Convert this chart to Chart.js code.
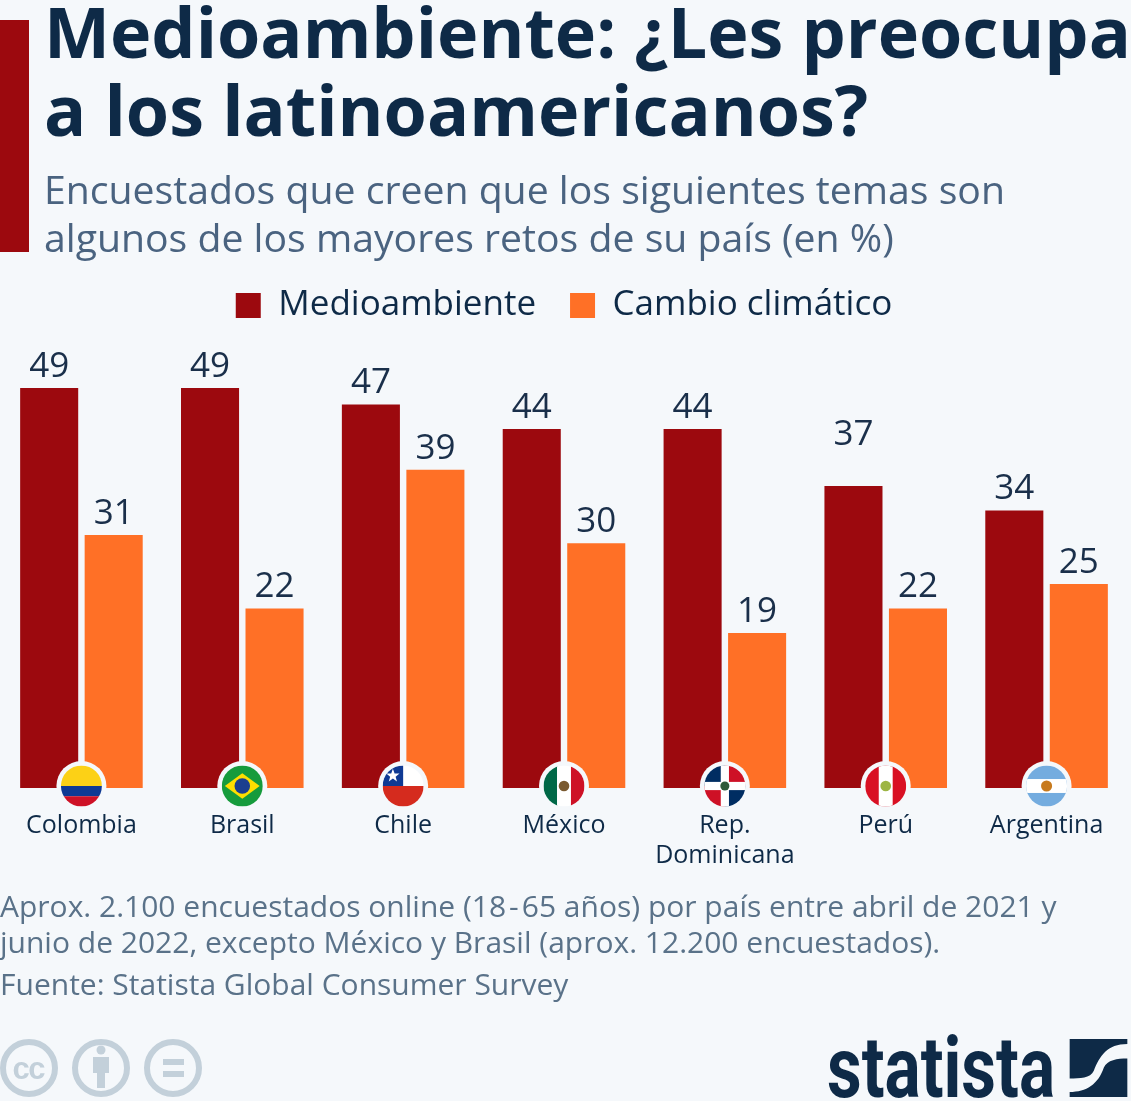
<!DOCTYPE html>
<html lang="es">
<head>
<meta charset="utf-8">
<script src="https://cdn.jsdelivr.net/npm/chart.js@4"></script>
<style>
html,body{margin:0;padding:0;background:#f5f8fb;}
body{position:relative;width:1131px;height:1101px;overflow:hidden;font-family:"Open Sans",sans-serif;}
canvas{position:absolute;left:0;top:0;}
.t{position:absolute;white-space:nowrap;}
.title{left:44px;font-weight:700;font-size:70px;line-height:80px;color:#0e2a47;}
.sub{left:44px;font-size:39.2px;line-height:48px;color:#4a6380;}
.foot{left:0;font-size:30px;line-height:38px;color:#5a7289;}
#bar{position:absolute;left:0;top:20px;width:29px;height:232px;background:#9c090e;}
#logo{left:827px;top:1018px;font-family:"Roboto",sans-serif;font-weight:700;font-size:86px;line-height:100px;color:#0e2a47;transform-origin:left top;transform:scaleX(.785);}
svg{position:absolute;}
</style>
</head>
<body>
<canvas id="c" width="1131" height="1101"></canvas>
<div id="bar"></div>
<div class="t title" style="top:-9px">Medioambiente: ¿Les preocupa</div>
<div class="t title" style="top:69px">a los latinoamericanos?</div>
<div class="t sub" style="top:165px">Encuestados que creen que los siguientes temas son</div>
<div class="t sub" style="top:213px">algunos de los mayores retos de su país (en %)</div>
<div class="t foot" style="top:887px">Aprox. 2.100 encuestados online (18<span style="margin:0 3px">-</span>65 años) por país entre abril de 2021 y</div>
<div class="t foot" style="top:923px">junio de 2022, excepto México y Brasil (aprox. 12.200 encuestados).</div>
<div class="t foot" style="top:965px">Fuente: Statista Global Consumer Survey</div>
<svg style="left:0;top:1036px" width="210" height="65" viewBox="0 0 210 65">
  <g fill="none" stroke="#c3d0da" stroke-width="6">
    <circle cx="29" cy="32" r="26"/><circle cx="101" cy="32" r="26"/><circle cx="173" cy="32" r="26"/>
  </g>
  <text x="29" y="43" text-anchor="middle" font-family="Liberation Sans" font-weight="700" font-size="31" fill="#c3d0da" textLength="33">cc</text>
  <g fill="#c3d0da">
    <circle cx="101" cy="14" r="4.5"/>
    <path d="M93 21H109V37H105V52H97V37H93Z"/>
    <rect x="163" y="23" width="21" height="6"/><rect x="163" y="35" width="21" height="6"/>
  </g>
</svg>
<div class="t" id="logo">statista</div>
<svg style="left:1069px;top:1039px" width="59" height="58" viewBox="0 0 172 173">
  <path fill="#0e2a47" d="M0 0H172V15C112 15 90 50 72 95C62 118 30 118 0 118Z"/>
  <path fill="#0e2a47" d="M172 58V173H0V158C50 158 85 135 102 85C112 62 142 58 172 58Z"/>
</svg>
<script>
const categories = ['Colombia', 'Brasil', 'Chile', 'México', ['Rep.', 'Dominicana'], 'Perú', 'Argentina'];
const flagKeys = ['co', 'br', 'cl', 'mx', 'do', 'pe', 'ar'];
const seriesNames = ['Medioambiente', 'Cambio climático'];
const medioambiente = [49, 49, 47, 44, 44, 37, 34];
const cambioClimatico = [31, 22, 39, 30, 19, 22, 25];
const raisedLabels = ['Perú'];

const BG = '#f5f8fb', RED = '#9c090e', ORANGE = '#ff7026', INK = '#0e2a47';

function rects(ctx, list) { list.forEach(([c, x, y, w, h]) => { ctx.fillStyle = c; ctx.fillRect(x, y, w, h); }); }
function dot(ctx, c, x, y, r) { ctx.fillStyle = c; ctx.beginPath(); ctx.arc(x, y, r, 0, Math.PI * 2); ctx.fill(); }
const flags = {
  co(ctx, r) { rects(ctx, [['#fcd116', -r, -r, 2 * r, r], ['#0f3a94', -r, 0, 2 * r, r / 2], ['#ce1126', -r, r / 2, 2 * r, r / 2]]); },
  br(ctx, r) {
    rects(ctx, [['#169b3c', -r, -r, 2 * r, 2 * r]]);
    ctx.fillStyle = '#fedf00'; ctx.beginPath(); ctx.moveTo(-r * .85, 0); ctx.lineTo(0, -r * .62); ctx.lineTo(r * .85, 0); ctx.lineTo(0, r * .62); ctx.closePath(); ctx.fill();
    dot(ctx, '#1b3f8f', 0, 0, r * .38);
  },
  cl(ctx, r) {
    rects(ctx, [['#fff', -r, -r, 2 * r, r], ['#d52b1e', -r, 0, 2 * r, r], ['#0f3a94', -r, -r, r, r]]);
    ctx.fillStyle = '#fff'; ctx.beginPath();
    for (let i = 0; i < 10; i++) { const a = -Math.PI / 2 + i * Math.PI / 5, q = i % 2 ? r * .14 : r * .34; ctx.lineTo(-r * .5 + q * Math.cos(a), -r * .5 + q * Math.sin(a)); }
    ctx.closePath(); ctx.fill();
  },
  mx(ctx, r) { rects(ctx, [['#006847', -r, -r, r * .68, 2 * r], ['#fff', -r * .34, -r, r * .68, 2 * r], ['#ce1126', r * .34, -r, r * .66, 2 * r]]); dot(ctx, '#7a5a30', 0, 0, r * .26); },
  do(ctx, r) {
    rects(ctx, [['#002d62', -r, -r, r, r], ['#ce1126', 0, -r, r, r], ['#ce1126', -r, 0, r, r], ['#002d62', 0, 0, r, r], ['#fff', -r * .2, -r, r * .4, 2 * r], ['#fff', -r, -r * .2, 2 * r, r * .4]]);
    dot(ctx, '#2e5a3a', 0, 0, r * .22);
  },
  pe(ctx, r) { rects(ctx, [['#d91023', -r, -r, 2 * r, 2 * r], ['#fff', -r * .34, -r, r * .68, 2 * r]]); dot(ctx, '#9db544', 0, 0, r * .26); },
  ar(ctx, r) { rects(ctx, [['#74acdf', -r, -r, 2 * r, 2 * r], ['#fff', -r, -r * .34, 2 * r, r * .68]]); dot(ctx, '#c77a1e', 0, 0, r * .27); }
};

const flagPlugin = {
  id: 'flags',
  afterDatasetsDraw(chart) {
    const ctx = chart.ctx, xs = chart.scales.x, y = xs.top - 2;
    flagKeys.forEach((k, i) => {
      const x = xs.getPixelForTick(i);
      ctx.save();
      dot(ctx, BG, x, y, 25);
      ctx.translate(x, y);
      ctx.beginPath(); ctx.arc(0, 0, 20.5, 0, Math.PI * 2); ctx.clip();
      flags[k](ctx, 20.5);
      ctx.restore();
    });
  }
};
const labelPlugin = {
  id: 'valueLabels',
  afterDatasetsDraw(chart) {
    const ctx = chart.ctx;
    ctx.save();
    ctx.font = '35px "Open Sans"'; ctx.fillStyle = '#1a2f4a'; ctx.textAlign = 'center'; ctx.textBaseline = 'middle';
    chart.data.datasets.forEach((ds, d) => {
      chart.getDatasetMeta(d).data.forEach((bar, i) => {
        const lift = (d === 0 && raisedLabels.includes(categories[i])) ? 51 : 21;
        ctx.fillText(ds.data[i], bar.x, bar.y - lift);
      });
    });
    ctx.restore();
  }
};

new Chart(document.getElementById('c'), {
  type: 'bar',
  data: {
    labels: categories,
    datasets: [
      { label: seriesNames[0], data: medioambiente, backgroundColor: RED },
      { label: seriesNames[1], data: cambioClimatico, backgroundColor: ORANGE }
    ]
  },
  options: {
    responsive: false, animation: false,
    layout: { padding: { left: 1, right: 4, top: 254, bottom: 215 } },
    datasets: { bar: { categoryPercentage: 0.802, barPercentage: 0.9 } },
    scales: {
      y: { display: false, min: 0, max: 55.75 },
      x: {
        grid: { display: false }, border: { display: false },
        ticks: { padding: 15, color: INK, font: { family: '"Open Sans"', size: 25 }, maxRotation: 0, autoSkip: false }
      }
    },
    plugins: {
      tooltip: { enabled: false },
      legend: {
        position: 'top',
        labels: { boxWidth: 25, boxHeight: 25, padding: 34, color: INK, font: { family: '"Open Sans"', size: 35 } }
      }
    }
  },
  plugins: [flagPlugin, labelPlugin]
});
</script>
</body>
</html>
